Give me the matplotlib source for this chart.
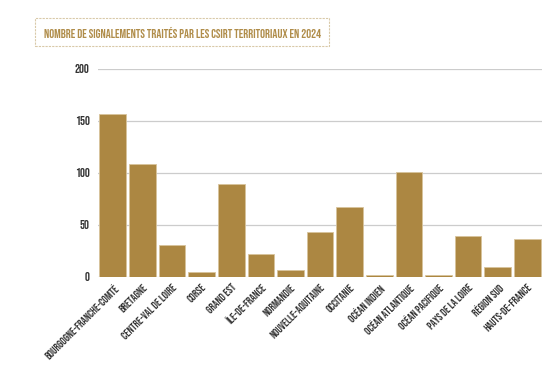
import matplotlib.pyplot as plt
import numpy as np

regions = ['BOURGOGNE-FRANCHE-COMTÉ', 'BRETAGNE', 'CENTRE-VAL DE LOIRE', 'CORSE',
           'GRAND EST', 'ÎLE-DE-FRANCE', 'NORMANDIE', 'NOUVELLE-AQUITAINE',
           'OCCITANIE', 'OCÉAN INDIEN', 'OCÉAN ATLANTIQUE', 'OCÉAN PACIFIQUE',
           'PAYS DE LA LOIRE', 'RÉGION SUD', 'HAUTS-DE-FRANCE']
signalements = [157, 109, 31, 5, 89, 22, 7, 43, 67, 2, 101, 2, 39, 10, 37]
y_ticks = [0, 50, 100, 150, 200]

plt.rcParams['font.family'] = ['Bebas Neue', 'DejaVu Sans']
gold = '#ac8742'

fig = plt.figure(figsize=(5.6, 3.81), dpi=100)
ax = fig.add_axes([0.175, 0.273, 0.793, 0.546])

x = np.arange(len(regions))
ax.bar(x, signalements, width=0.9, color=gold, edgecolor='#d8c49c', linewidth=0.6, zorder=3)

ax.set_xlim(-0.5, len(regions) - 0.5)
ax.set_ylim(0, 200)
ax.set_yticks(y_ticks)
ax.yaxis.grid(True, color='#cccccc', linewidth=0.9, zorder=0)
ax.tick_params(axis='y', length=0, labelsize=9, pad=6, colors='#333333')
ax.tick_params(axis='x', length=0, pad=4)
ax.set_xticks(x)
ax.set_xticklabels(regions, rotation=45, ha='right', rotation_mode='anchor',
                   fontsize=8, color='#333333')
for s in ax.spines.values():
    s.set_visible(False)

fig.text(0.078, 0.916, 'NOMBRE DE SIGNALEMENTS TRAITÉS PAR LES CSIRT TERRITORIAUX EN 2024',
         fontsize=8.9, color='#b08d4a', va='center', ha='left',
         bbox=dict(boxstyle='square,pad=0.7', facecolor='white', edgecolor='#d9c9a8',
                   linestyle=(0, (2, 1)), linewidth=0.8))

fig.savefig('out.png', dpi=100)
